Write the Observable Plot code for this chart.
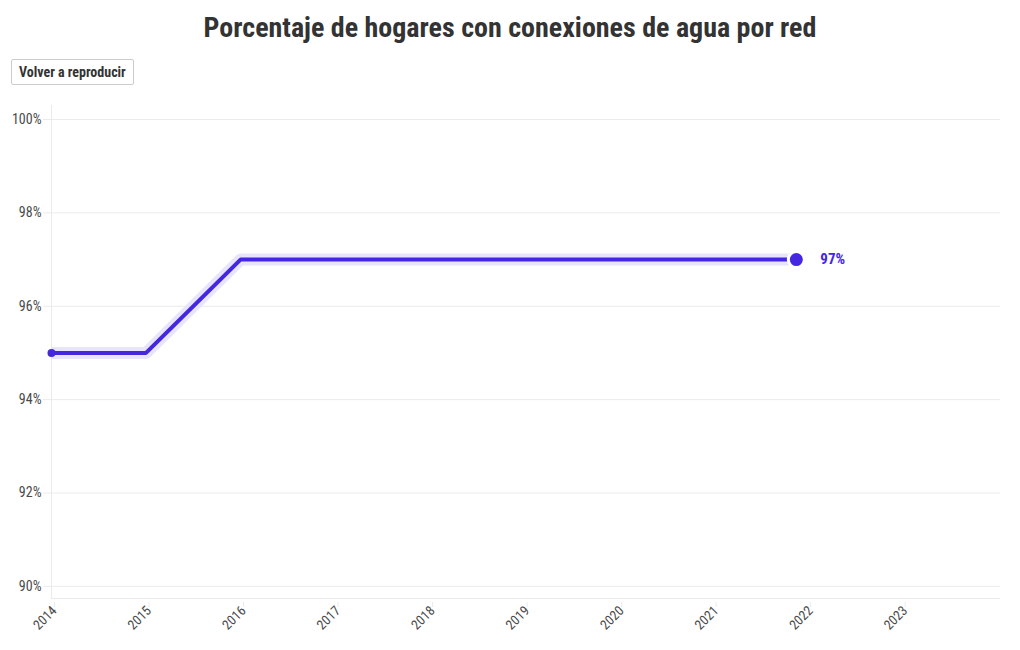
<!DOCTYPE html>
<html>
<head>
<meta charset="utf-8">
<script src="https://cdn.jsdelivr.net/npm/d3@7"></script>
<script src="https://cdn.jsdelivr.net/npm/@observablehq/plot@0.6"></script>
<style>
  html, body { margin: 0; padding: 0; background: #fff; }
  body { width: 1020px; height: 650px; position: relative; overflow: hidden;
         font-family: "Roboto Condensed", "Liberation Sans Narrow", "DejaVu Sans Condensed", Roboto, sans-serif; font-stretch: condensed; }
  #title { position: absolute; top: 11px; left: 0; width: 1020px; text-align: center;
           font-size: 28px; font-weight: 700; color: #333; margin: 0; }
  #replay { position: absolute; top: 59px; left: 11px; height: 26px; padding: 0 7px;
            border: 1px solid #ccc; border-radius: 2px; background: #fff; color: #333;
            font-family: inherit; font-stretch: condensed; font-weight: 700; font-size: 14px; }
  #chart { position: absolute; top: 95px; left: 0; }
  #chart svg { font-family: "Roboto Condensed", "Liberation Sans Narrow", "DejaVu Sans Condensed", Roboto, sans-serif; font-stretch: condensed; }
</style>
</head>
<body>
<h1 id="title">Porcentaje de hogares con conexiones de agua por red</h1>
<button id="replay">Volver a reproducir</button>
<div id="chart"></div>
<script>
// Data
const years  = [2014, 2015, 2016, 2017, 2018, 2019, 2020, 2021, 2021.88];
const values = [95, 95, 97, 97, 97, 97, 97, 97, 97];
const yTicks = [90, 92, 94, 96, 98, 100];
const xTicks = [2014, 2015, 2016, 2017, 2018, 2019, 2020, 2021, 2022, 2023];
const xDomain = [2014, 2024.04];
const yDomain = [89.74, 100.3];

const lineColor = "#4527e0";
const haloColor = "#e8e4fb";
const gridColor = "#ebebeb";

const data = years.map((y, i) => ({year: y, value: values[i]}));
const first = data[0];
const last = data[data.length - 1];

const chart = Plot.plot({
  width: 1020,
  height: 555,
  marginLeft: 51,
  marginRight: 20,
  marginTop: 10,
  marginBottom: 52,
  x: {domain: xDomain},
  y: {domain: yDomain},
  marks: [
    Plot.gridY(yTicks, {stroke: gridColor, strokeOpacity: 1}),
    Plot.ruleX([xDomain[0]], {stroke: gridColor}),
    Plot.ruleY([yDomain[0]], {stroke: gridColor}),
    Plot.axisY(yTicks, {tickFormat: d => d + "%", tickSize: 8, stroke: gridColor, strokeOpacity: 1,
      fill: "#4a4a4a", fontSize: 14, tickPadding: 2, label: null}),
    Plot.axisX(xTicks, {tickFormat: d => String(d), tickSize: 5, stroke: gridColor, strokeOpacity: 1,
      fill: "#4a4a4a", fontSize: 13.5, tickRotate: -45, tickPadding: 1, dx: 3, dy: 4, label: null}),
    Plot.line(data, {x: "year", y: "value", stroke: haloColor, strokeWidth: 12, strokeLinejoin: "round", strokeLinecap: "butt"}),
    Plot.line(data, {x: "year", y: "value", stroke: lineColor, strokeWidth: 4, strokeLinejoin: "miter"}),
    Plot.dot([first], {x: "year", y: "value", r: 4, fill: lineColor}),
    Plot.dot([last], {x: "year", y: "value", r: 8, fill: lineColor, stroke: "#fff", strokeWidth: 3}),
    Plot.text([last], {x: "year", y: "value", text: d => d.value + "%", dx: 24, textAnchor: "start",
      fill: lineColor, fontWeight: "bold", fontSize: 15})
  ]
});
document.getElementById("chart").appendChild(chart);
</script>
</body>
</html>
